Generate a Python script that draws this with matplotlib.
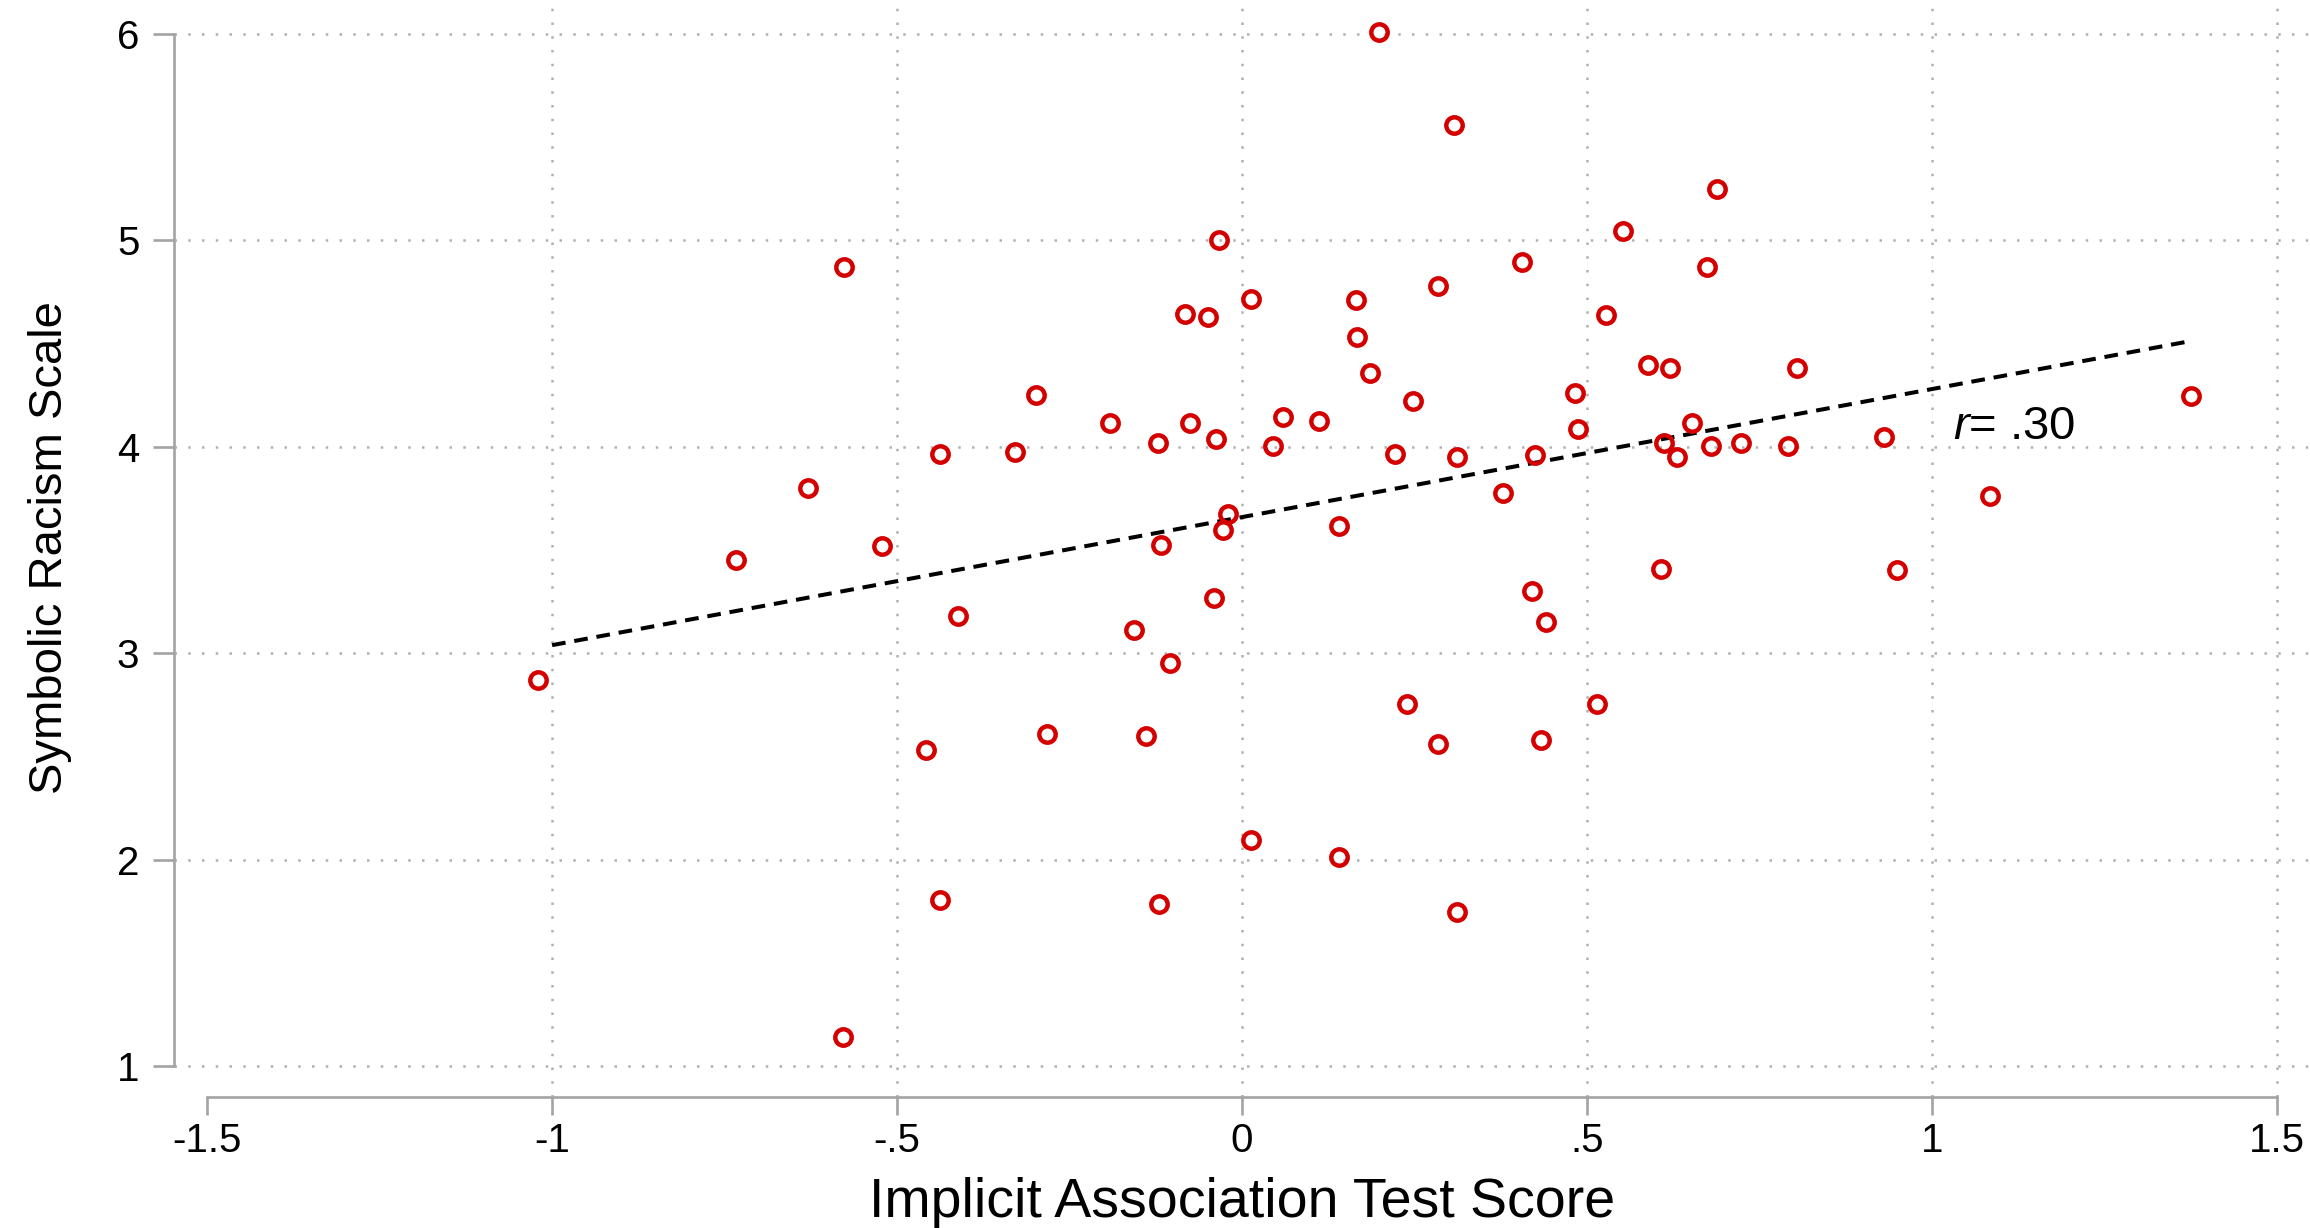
import matplotlib
matplotlib.use("Agg")
import matplotlib.pyplot as plt
import numpy as np

plt.rcParams["font.family"] = ["Liberation Sans", "DejaVu Sans"]
plt.rcParams["mathtext.fontset"] = "custom"
plt.rcParams["mathtext.rm"] = "Liberation Sans"
plt.rcParams["mathtext.it"] = "Liberation Sans:italic"

# IAT score vs. symbolic racism scale, one point per respondent
iat_score = [
    -1.020, -0.733, -0.629, -0.577, -0.579, -0.522, -0.458, -0.438, -0.438, -0.411,
    -0.329, -0.299, -0.282, -0.192, -0.156, -0.139, -0.122, -0.120, -0.118, -0.105,
    -0.083, -0.075, -0.049, -0.041, -0.038, -0.034, -0.028, -0.021, 0.013, 0.013,
    0.045, 0.060, 0.111, 0.141, 0.141, 0.165, 0.167, 0.186, 0.199, 0.222,
    0.239, 0.248, 0.284, 0.284, 0.308, 0.312, 0.312, 0.378, 0.406, 0.421,
    0.425, 0.434, 0.440, 0.483, 0.487, 0.515, 0.528, 0.552, 0.588, 0.607,
    0.612, 0.620, 0.631, 0.652, 0.674, 0.680, 0.688, 0.723, 0.791, 0.804,
    0.930, 0.949, 1.084, 1.375,
]
symbolic_racism = [
    2.869, 3.454, 3.803, 4.873, 1.143, 3.518, 2.534, 3.967, 1.806, 3.183,
    3.974, 4.253, 2.612, 4.117, 3.111, 2.598, 4.017, 1.785, 3.525, 2.954,
    4.645, 4.117, 4.631, 3.268, 4.039, 5.001, 3.596, 3.675, 4.716, 2.098,
    4.003, 4.146, 4.124, 3.618, 2.013, 4.709, 4.531, 4.359, 6.007, 3.967,
    2.755, 4.224, 4.780, 2.562, 5.558, 3.953, 1.749, 3.775, 4.894, 3.304,
    3.960, 2.583, 3.154, 4.260, 4.088, 2.755, 4.638, 5.044, 4.395, 3.411,
    4.017, 4.381, 3.953, 4.117, 4.873, 4.003, 5.251, 4.017, 4.003, 4.381,
    4.046, 3.404, 3.760, 4.245,
]

# Fitted regression line
fit_intercept = 3.66
fit_slope = 0.62
fit_x_range = [-1.0, 1.375]
r_label = "$r$= .30"

x_ticks = [-1.5, -1.0, -0.5, 0.0, 0.5, 1.0, 1.5]
x_tick_labels = ["-1.5", "-1", "-.5", "0", ".5", "1", "1.5"]
y_ticks = [1, 2, 3, 4, 5, 6]
y_tick_labels = ["1", "2", "3", "4", "5", "6"]
x_grid = [-1.0, -0.5, 0.0, 0.5, 1.0, 1.5]

W, H = 2310, 1228
fig = plt.figure(figsize=(W / 100, H / 100), dpi=100)
ax = fig.add_axes([174 / W, (H - 1097) / H, (W - 174) / W, 1097 / H])
ax.set_xlim(-1.548, 1.548)
ax.set_ylim(0.852, 6.164)

axis_grey = "#a3a3a3"
grid_grey = "#b0b0b0"

# Dotted reference grid
for gy in y_ticks:
    ax.axhline(gy, color=grid_grey, lw=1.8, ls=(0, (1, 4.5)), zorder=0.5)
for gx in x_grid:
    ax.axvline(gx, color=grid_grey, lw=1.8, ls=(0, (1, 4.5)), zorder=0.5)

# Regression line
fx = np.array(fit_x_range)
ax.plot(fx, fit_intercept + fit_slope * fx, color="black", lw=2.9,
        dashes=(3.4, 2.2), zorder=2)

# Scatter of respondents
ax.plot(iat_score, symbolic_racism, ls="none", marker="o", ms=11.8,
        mfc="none", mec="#d40000", mew=3.2, zorder=3)

ax.text(1.03, 4.04, r_label, fontsize=34, ha="left", va="baseline", zorder=4)

for side in ("top", "right"):
    ax.spines[side].set_visible(False)
for side in ("left", "bottom"):
    ax.spines[side].set_color(axis_grey)
    ax.spines[side].set_linewidth(1.9)
ax.spines["left"].set_bounds(1, 6)
ax.spines["bottom"].set_bounds(-1.5, 1.5)

ax.set_xticks(x_ticks)
ax.set_xticklabels(x_tick_labels)
ax.set_yticks(y_ticks)
ax.set_yticklabels(y_tick_labels)
ax.tick_params(axis="y", length=15, width=1.9, color=axis_grey, pad=10,
               labelsize=29, labelcolor="black")
ax.tick_params(axis="x", length=13, width=1.9, color=axis_grey, pad=5,
               labelsize=29, labelcolor="black")

fig.text(1242 / W, 1 - 1217 / H, "Implicit Association Test Score",
         fontsize=40, ha="center", va="baseline")
fig.text(62 / W, 1 - 548 / H, "Symbolic Racism Scale", fontsize=34,
         rotation=90, rotation_mode="anchor", ha="center", va="baseline")

fig.savefig("out.png", dpi=100, facecolor="white")
